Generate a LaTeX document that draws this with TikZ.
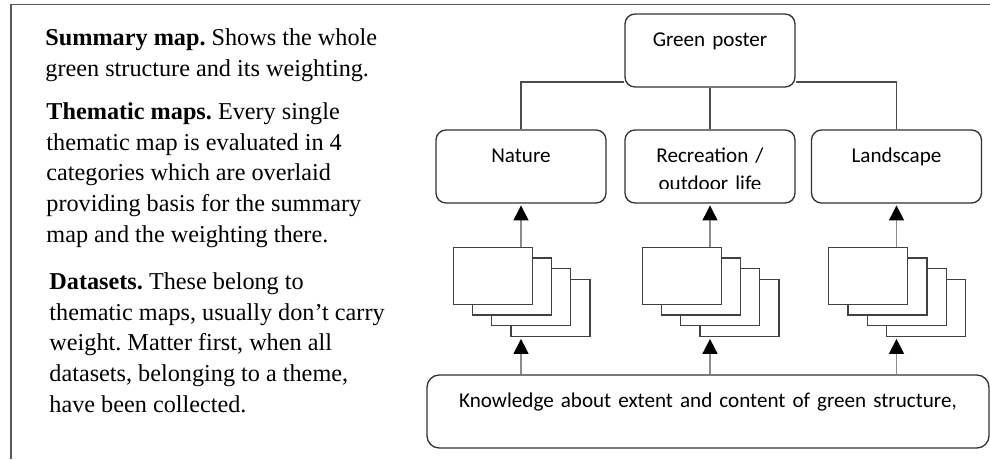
\documentclass[tikz,border=0pt]{standalone}
\usepackage{fontspec}
\setmainfont{Liberation Serif}
\newfontfamily\boxfont{Carlito}
\usetikzlibrary{arrows.meta, calc}

\begin{document}
\frenchspacing
\begin{tikzpicture}[x=0.45pt, y=-0.45pt,
    frame/.style={draw=black!65, line width=0.7pt},
    note/.style={anchor=north west, inner sep=0pt, align=left, font=\fontsize{10.9}{13.8}\selectfont},
    box/.style={draw=black!80, line width=0.6pt, rounded corners=4.5pt, inner sep=0pt,
        text width=76.5pt, align=center, text height=14.6pt, text depth=18.25pt,
        font=\boxfont\fontsize{9.5}{12.6}\selectfont},
    wide/.style={box, text width=252.9pt, rounded corners=5.5pt},
    map/.style={draw=black!75, fill=white, line width=0.6pt, inner sep=0pt,
        minimum width=35.55pt, minimum height=25.65pt, anchor=north west},
    tree/.style={draw=black!70, line width=0.6pt},
    up/.style={draw=black!45, line width=0.6pt, shorten >=0.8pt,
        -{Triangle[length=6.75pt, width=6.75pt, color=black]}}]

    % Stack offsets (px)
    \def\dx{19.3}
    \def\dy{10.7}

    \useasboundingbox (0,0) rectangle (990,459);

    % Frame
    \draw[frame] (11,459) -- (11,4.5) -- (990,4.5);

    % Notes
    \node[note] (summary) at (45,28.2)
        {\textbf{Summary map.} Shows the whole\\ green structure and its weighting.};
    \node[note] (thematic) at (46,102.2)
        {\textbf{Thematic maps.} Every single\\ thematic map is evaluated in 4\\ categories which are overlaid\\ providing basis for the summary\\ map and the weighting there.};
    \node[note] (datasets) at (49,272.2)
        {\textbf{Datasets.} These belong to\\ thematic maps, usually don’t carry\\ weight. Matter first, when all\\ datasets, belonging to a theme,\\ have been collected.};

    % Boxes
    \node[box] (poster) at (710,50.5) {Green poster};
    \node[box] (nature) at (521,166.5) {Nature};
    \node[box] (recre)  at (710,166.5) {};
    \node[box] (landsc) at (896.5,166.5) {Landscape};
    \node[wide] (knowl) at (708,411.5) {Knowledge about extent and content of green structure,};
    % second line cut off by the box
    \begin{scope}
        \clip (recre.north west) rectangle ([yshift=6.75pt]recre.south east);
        \node[box, draw=none] (recre-label) at (recre) {Recreation /\\ outdoor life};
    \end{scope}

    % Tree
    \draw[tree] (poster.south) -- (recre.north);
    \draw[tree] (poster.west |- 0,82) -| (nature.north);
    \draw[tree] (poster.east |- 0,82) -| (landsc.north);

    % Datasets stacks and arrows
    \foreach \col/\tag in {nature/nat, recre/rec, landsc/lan}{
        \foreach \k in {3,2,1,0}{
            \node[map] (\tag-map\k) at ($(\col.south)+({-68.5+\dx*\k},{43+\dy*\k})$) {};
        }
        \draw[up] (\tag-map0.north -| \col.south) -- (\col.south);
        \draw[up] (knowl.north -| \col.south) -- (\tag-map3.south -| \col.south);
    }

\end{tikzpicture}
\end{document}
